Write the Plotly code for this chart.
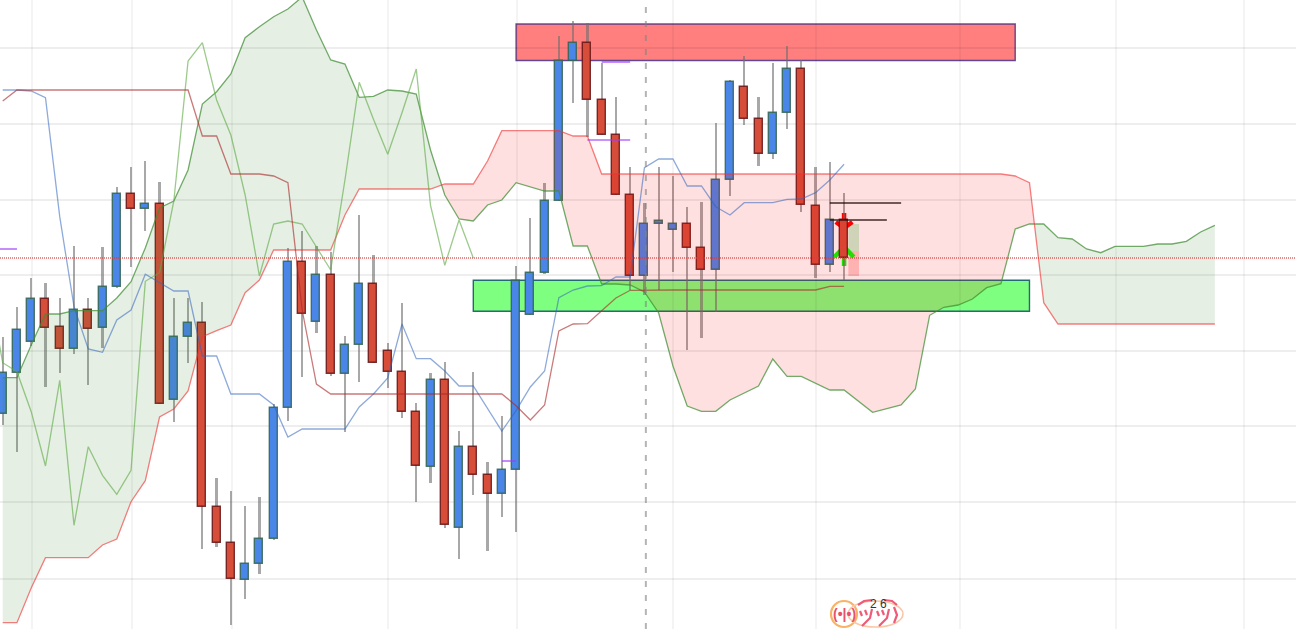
import plotly.graph_objects as go

# Candle data (price units; candle 0 is the leftmost session)
opens = [215, 256.3, 287.3, 330, 301.7, 279.7, 319, 301.3, 341.7, 435,
         420, 425.3, 228.7, 292.3, 306.3, 122.3, 86.3, 49, 65, 90,
         221.3, 366.7, 307.3, 354, 255, 284, 345, 277.7, 257.3, 217.3,
         162.3, 248.7, 101.3, 182.3, 153.7, 134.7, 158.7, 313.7, 356.3, 428,
         568, 586.3, 529, 494, 434, 353, 405, 399, 405, 381.3,
         359, 448.7, 542.3, 510.3, 474.7, 516.3, 560, 422.7, 363.7, 409]
closes = [256.3, 299, 330, 301.3, 279.7, 319, 299.7, 341.7, 435, 420,
          425.3, 224.7, 292.3, 306.3, 122.3, 86.3, 50, 65, 90, 221.3,
          366.7, 315, 354, 255, 284, 345, 266.3, 257.3, 217.3, 163,
          248.7, 103.7, 182.3, 153.7, 134.7, 158.7, 347.7, 356.3, 428, 568,
          586.3, 529, 494, 434, 353, 405, 408, 405, 381.3, 359,
          449, 546.7, 509.7, 474.7, 516.3, 560, 423.7, 363.7, 409, 371]
highs = [292, 322, 351, 346, 331, 383, 331, 382, 442, 462,
         468, 447, 331, 331, 327, 151, 138, 123, 132, 225,
         381, 398, 383, 377, 293, 414, 374, 286, 326, 226.3,
         256, 267, 198, 257, 167, 213, 363, 411, 446, 593,
         608, 606, 566, 532, 462, 426, 462, 453, 422, 427,
         506, 549, 573, 532, 566, 583, 569, 462, 467, 436]
lows = [204, 177.3, 283, 242.3, 256, 275, 244, 281, 341, 362,
        398.3, 224.7, 207.3, 266, 80, 82, 4, 30, 55, 89,
        208.3, 252.3, 296, 253.3, 197.3, 247.3, 266, 241, 211, 127.3,
        146, 101, 70.3, 134.3, 78.3, 112.3, 97, 313.7, 355, 428,
        526, 492.3, 494, 434, 339, 334, 339, 357.3, 279, 291,
        317.3, 433.3, 504.3, 463.3, 470.3, 500, 417, 351, 357, 349]

# Ichimoku lines
span_a = [251.3, 251.3, 284, 315, 315, 318.3, 318.3, 318.3, 331, 347.3,
          381, 421, 428, 459, 525, 537.3, 555, 591.3, 602.3, 612.3,
          620, 632, 599, 569, 565, 531.7, 532.7, 539, 538, 535,
          479, 434, 410, 408, 424, 429, 446.3, 442, 438, 438,
          383, 383, 345, 345, 344, 337, 316, 263, 223, 217.7,
          217.7, 229, 235.7, 243, 270, 252.7, 252.7, 245.7, 239, 239,
          228.3, 216.7, 220.3, 224, 240, 313.7, 321.7, 324, 330, 341.3,
          345.3, 400, 405, 405, 391.3, 390, 380, 376.3, 382.7, 382.7,
          382.7, 385, 385, 387.7, 397, 403.7]
span_b = [6.3, 6.3, 41, 71.3, 71.3, 71.3, 71.3, 84, 90, 127.3,
          148.3, 212, 220, 238, 292.3, 298.3, 304, 336.3, 349, 379,
          379, 379, 379, 379, 414, 440, 440, 440, 440, 440,
          440, 445, 445, 445, 468, 498.3, 498.3, 498.3, 498.3, 498.3,
          493, 493, 455, 455, 455, 455, 455, 455, 455, 455,
          455, 455, 455, 455, 455, 455, 455, 455, 455, 455,
          455, 455, 455, 455, 455, 455, 455, 455, 455, 455,
          455, 453, 446.3, 326.3, 305, 305, 305, 305, 305, 305,
          305, 305, 305, 305, 305, 305]
tenkan = [539, 539, 538, 531.3, 412.3, 322.3, 280, 276.7, 309, 319,
          354.7, 346.3, 338, 338, 273, 273, 235, 235, 235, 224,
          192, 200, 200, 200, 200, 222, 235, 251, 305, 270.3,
          270.3, 258, 243, 243, 221, 198, 218.3, 242, 258, 331.3,
          339, 343, 343.3, 352, 352, 461.3, 470, 470, 443, 443,
          422.3, 414, 426.3, 426.3, 426.3, 429.7, 430, 436.3, 449, 464.7]
kijun = [528, 539, 539, 539, 539, 539, 539, 539, 539, 539,
         539, 539, 539, 539, 493, 493, 455, 455, 455, 453,
         446.3, 319, 245, 235, 235, 235, 235, 235, 235, 235,
         235, 235, 235, 235, 235, 235, 223.3, 209, 224, 298,
         305, 305.3, 318.3, 331, 338.7, 339, 339, 339, 339, 339,
         339, 339, 339, 339, 339, 339, 339, 339, 342.7, 342.7]
chikou_lag = 26

# Grid positions
x_grid = [2.05, 9.07, 16.08, 27, 36.07, 47, 57.03, 67.1, 78.07, 87.05]
y_grid = [50, 127, 203, 278, 354, 429, 505, 581]

# Levels and zones
last_price = 371
crosshair_x = 45.1
supply_zone = {"x": [36, 71], "y": [568.5, 605]}
demand_zone = {"x": [33, 72], "y": [317.7, 348.7]}
purple_levels = [(-0.2, 1, 380), (35, 36, 168), (42, 44, 567), (41, 44, 489)]
black_levels = [(58, 63, 426), (58, 62, 409)]
trade_box_x = [59.3, 60.05]
trade_box_y = [353, 378, 405]
x_range = [-0.189, 90.69]
y_range = [0, 629]
W, H = 1296, 629

n = len(opens)
idx = list(range(n))
BLUE, RED = "#4a86e8", "#d64e3a"
body_col = [BLUE if c >= o else RED for o, c in zip(opens, closes)]
edge_col = ["rgba(50,100,80,0.85)" if c >= o else "rgba(100,20,20,0.85)" for o, c in zip(opens, closes)]

fig = go.Figure()

# wicks
fig.add_bar(x=idx, base=lows, y=[h - l for h, l in zip(highs, lows)], width=0.16,
            marker=dict(color="rgba(110,110,110,0.6)", line=dict(width=0)))
# bodies
fig.add_bar(x=idx, base=[min(o, c) for o, c in zip(opens, closes)],
            y=[abs(c - o) for o, c in zip(opens, closes)], width=0.56,
            marker=dict(color=body_col, line=dict(color=edge_col, width=1.4)))


def crossing(i):
    d0, d1 = span_a[i] - span_b[i], span_a[i + 1] - span_b[i + 1]
    t = d0 / (d0 - d1)
    return i + t, span_a[i] + t * (span_a[i + 1] - span_a[i])


def cloud(pts_start, i0, i1, pts_end, color):
    xs = [pts_start[0]] if pts_start else []
    ya = [pts_start[1]] if pts_start else []
    xs = xs + list(range(i0, i1 + 1)) + ([pts_end[0]] if pts_end else [])
    ya = ya + span_a[i0:i1 + 1] + ([pts_end[1]] if pts_end else [])
    rx = xs[::-1]
    yb = []
    for v in rx:
        if isinstance(v, int):
            yb.append(span_b[v])
        else:
            yb.append(ya[xs.index(v)])
    fig.add_scatter(x=xs + rx, y=ya + yb, mode="lines", fill="toself",
                    fillcolor=color, line=dict(width=0), hoverinfo="skip")


c1 = crossing(30)
c2 = crossing(72)
GREEN_FILL, PINK_FILL = "rgba(56,130,50,0.13)", "rgba(255,0,0,0.12)"
cloud(None, 0, 30, c1, GREEN_FILL)
cloud(c1, 31, 72, c2, PINK_FILL)
cloud(c2, 73, 85, None, GREEN_FILL)

# Ichimoku lines
spans_x = list(range(len(span_a)))
fig.add_scatter(x=spans_x, y=span_a, mode="lines", line=dict(color="rgba(62,140,50,0.72)", width=1.3))
fig.add_scatter(x=spans_x, y=span_b, mode="lines", line=dict(color="rgba(240,50,50,0.62)", width=1.3))
fig.add_scatter(x=list(range(-1, n - chikou_lag)), y=closes[chikou_lag - 1:], mode="lines",
                line=dict(color="rgba(95,170,70,0.62)", width=1.3))
fig.add_scatter(x=idx, y=tenkan, mode="lines", line=dict(color="rgba(50,100,190,0.55)", width=1.3))
fig.add_scatter(x=idx, y=kijun, mode="lines", line=dict(color="rgba(170,40,40,0.62)", width=1.3))

# Last-price dotted line
fig.add_scatter(x=x_range, y=[last_price, last_price], mode="lines",
                line=dict(color="rgba(215,60,60,0.8)", width=1.5, dash="1px,1px"))

for x0, x1, y in purple_levels:
    fig.add_scatter(x=[x0, x1], y=[y, y], mode="lines", line=dict(color="rgba(160,60,250,0.75)", width=1.6))
for x0, x1, y in black_levels:
    fig.add_scatter(x=[x0, x1], y=[y, y], mode="lines", line=dict(color="rgba(30,10,10,0.85)", width=1.3))

shapes = []
# Zones (behind the candles)
shapes.append(dict(type="rect", layer="below", xref="x", yref="y",
                   x0=supply_zone["x"][0], x1=supply_zone["x"][1], y0=supply_zone["y"][0], y1=supply_zone["y"][1],
                   fillcolor="rgba(255,0,0,0.5)", line=dict(color="rgba(60,40,130,0.8)", width=1.4)))
shapes.append(dict(type="rect", layer="below", xref="x", yref="y",
                   x0=demand_zone["x"][0], x1=demand_zone["x"][1], y0=demand_zone["y"][0], y1=demand_zone["y"][1],
                   fillcolor="rgba(0,255,0,0.5)", line=dict(color="rgba(20,90,110,0.9)", width=1.4)))
# Trade box beside the last candle
shapes.append(dict(type="rect", layer="below", xref="x", yref="y",
                   x0=trade_box_x[0], x1=trade_box_x[1], y0=trade_box_y[1], y1=trade_box_y[2],
                   fillcolor="#c9f1d1", line=dict(width=0)))
shapes.append(dict(type="rect", layer="below", xref="x", yref="y",
                   x0=trade_box_x[0], x1=trade_box_x[1], y0=trade_box_y[0], y1=trade_box_y[1],
                   fillcolor="#ffcbcb", line=dict(width=0)))


def arrow(xc, stem_end, tip, arm_y, half, color):
    return dict(type="path", layer="below", xref="x", yref="y",
                path=f"M {xc} {stem_end} L {xc} {tip} M {xc - half} {arm_y} L {xc} {tip} L {xc + half} {arm_y}",
                line=dict(color=color, width=4.5))


shapes.append(arrow(59, 416, 401, 407, 0.58, "#ff0000"))
shapes.append(arrow(59, 363, 382, 372, 0.68, "#00ff00"))
# Crosshair
shapes.append(dict(type="line", layer="above", xref="x", yref="paper", x0=crosshair_x, x1=crosshair_x, y0=0, y1=1,
                   line=dict(color="rgba(130,130,130,0.6)", width=2, dash="6px,8px")))


# Small logo at the bottom: decorative icon strokes, given in page pixels
def px_rect(x0, x1, y0, y1, color, width):
    return dict(type="circle", xref="paper", yref="paper", layer="above",
                x0=x0 / W, x1=x1 / W, y0=1 - y1 / H, y1=1 - y0 / H,
                line=dict(color=color, width=width), fillcolor="rgba(0,0,0,0)")


def px_stroke(points, color, width):
    d = " ".join(("M" if i == 0 else "L") + f" {x / W} {1 - y / H}" for i, (x, y) in enumerate(points))
    return dict(type="path", xref="paper", yref="paper", layer="above", path=d,
                line=dict(color=color, width=width))


LOGO_PINK = "#ee5a78"
logo_strokes = [
    [(858, 605), (864, 601), (872, 600)],
    [(884, 600), (892, 601), (897, 605)],
    [(860, 611), (862, 616)], [(865, 610), (867, 615)], [(872, 609), (870, 618), (862, 626)],
    [(877, 611), (879, 616)], [(882, 610), (884, 615)], [(889, 609), (887, 618), (879, 626)],
    [(894, 607), (897, 615), (894, 623)],
]
shapes.append(px_rect(831, 857, 601, 627, "#f9b268", 2.2))
shapes.append(px_rect(848, 903, 601, 627, "#f9c8a8", 1.6))
shapes += [px_stroke(s, LOGO_PINK, 2.2) for s in logo_strokes]

annotations = [
    dict(text="<b>(•|•)</b>", x=844 / W, y=1 - 614 / H, xref="paper", yref="paper", showarrow=False,
         xanchor="center", yanchor="middle",
         font=dict(family="Liberation Sans", size=14, color="#e8506a")),
    dict(text="2 6", x=878 / W, y=1 - 604 / H, xref="paper", yref="paper", showarrow=False,
         xanchor="center", yanchor="middle",
         font=dict(family="Liberation Sans", size=12, color="#333333")),
]

fig.update_layout(
    width=W, height=H, margin=dict(l=0, r=0, t=0, b=0),
    paper_bgcolor="white", plot_bgcolor="white",
    barmode="overlay", bargap=0, showlegend=False, hovermode=False,
    shapes=shapes, annotations=annotations,
    xaxis=dict(range=x_range, tickvals=x_grid, showticklabels=False, ticks="", zeroline=False,
               showgrid=True, gridcolor="rgba(0,0,0,0.045)", gridwidth=2, showline=False),
    yaxis=dict(range=y_range, tickvals=y_grid, showticklabels=False, ticks="", zeroline=False,
               showgrid=True, gridcolor="rgba(0,0,0,0.065)", gridwidth=2, showline=False),
)

fig.write_html("out.html", config=dict(displayModeBar=False),
               post_script="document.body.style.margin='0';document.documentElement.style.overflow='hidden';")
